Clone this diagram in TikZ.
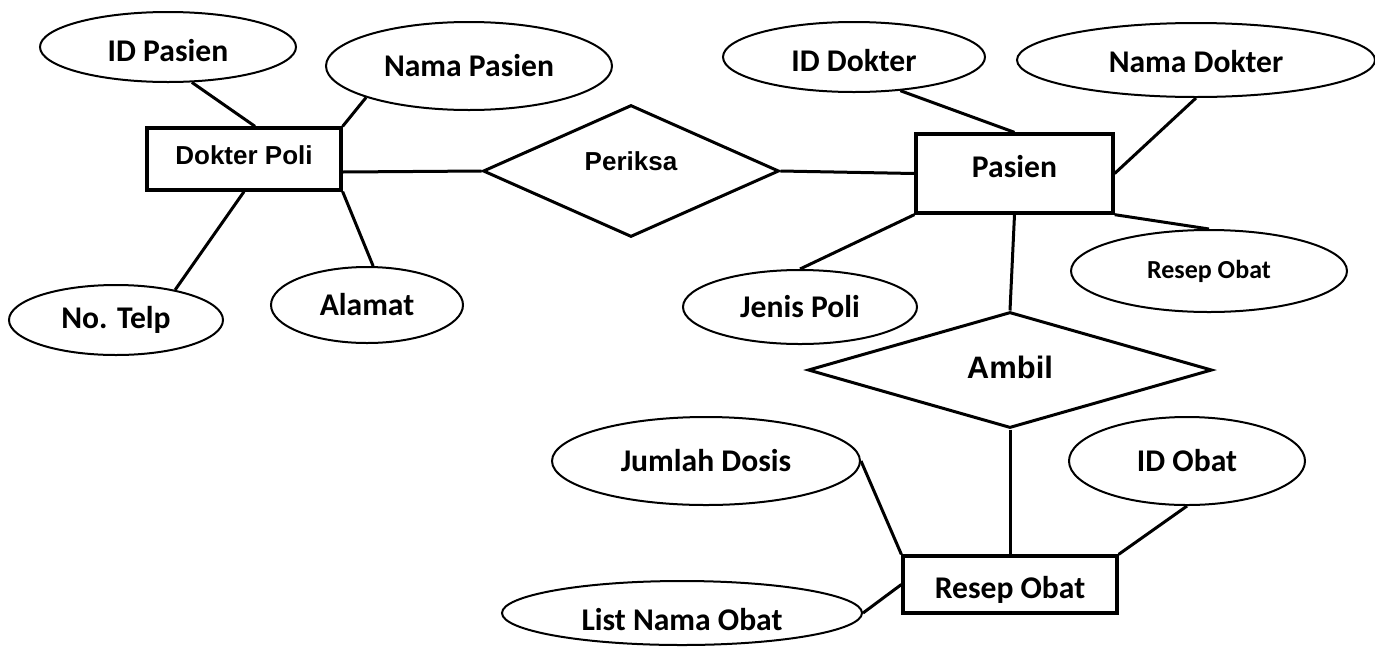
\documentclass[tikz,border=0pt]{standalone}
\usepackage{fontspec}
\setmainfont{Carlito}
\newfontfamily\arialfont{Liberation Sans}
\usetikzlibrary{shapes.geometric,calc}

\begin{document}
\begin{tikzpicture}[x=1pt,y=-1pt,
  attr/.style={ellipse, draw, line width=2pt, inner sep=0pt,
    font=\fontsize{31.6}{36}\selectfont\bfseries},
  entity/.style={rectangle, draw, line width=3.3pt, inner sep=0pt},
  cfont/.style={font=\fontsize{31.6}{36}\selectfont\bfseries},
  afont/.style={font=\arialfont\fontsize{#1}{#1}\selectfont\bfseries},
  rel/.style={diamond, draw, line width=3pt, inner sep=0pt},
  lower/.style={text height=#1, text depth=0pt},
  link/.style={line width=3pt}]

\useasboundingbox (0,0) rectangle (1375,646);

% entities
\node[entity, afont=26, minimum width=194pt, minimum height=62pt,
      text height=19pt, text depth=8.4pt] (dp) at (244,159) {Dokter Poli};
\node[entity, cfont, minimum width=197pt, minimum height=79pt,
      text height=20.5pt, text depth=13pt] (ps) at (1014.5,173.5) {Pasien};
\node[entity, cfont, minimum width=214pt, minimum height=57pt,
      lower=27pt] (rs) at (1010,584.5) {Resep Obat};

% relationships
\node[rel, afont=26, minimum width=296pt, minimum height=122pt,
      text height=19pt, text depth=20.4pt] (per) at (631,171) {Periksa};
\node[rel, afont=31, minimum width=404pt, minimum height=116pt,
      text height=22.6pt, text depth=6.4pt] (amb) at (1010,370) {Ambil};

% attributes
\node[attr, lower=29pt, minimum width=256pt, minimum height=70pt] (idp) at (168,47) {ID Pasien};
\node[attr, minimum width=286pt, minimum height=88pt] (nmp) at (469,66) {Nama Pasien};
\node[attr, minimum width=214pt, minimum height=70pt] (tel) at (116,320) {No. Telp};
\node[attr, minimum width=192pt, minimum height=76pt] (alm) at (367,305) {Alamat};
\node[attr, lower=29pt, minimum width=262pt, minimum height=70pt] (idd) at (854,57) {ID Dokter};
\node[attr, lower=24pt, minimum width=358pt, minimum height=74pt] (nmd) at (1196,60) {Nama Dokter};
\node[attr, minimum width=276pt, minimum height=82pt,
      font=\fontsize{26}{30}\selectfont\bfseries] (rsa) at (1209,271) {Resep Obat};
\node[attr, minimum width=234pt, minimum height=74pt] (jp) at (800,307) {Jenis Poli};
\node[attr, minimum width=308pt, minimum height=88pt] (jd) at (706,461) {Jumlah Dosis};
\node[attr, minimum width=236pt, minimum height=88pt] (ido) at (1187,461) {ID Obat};
\node[attr, lower=34pt, minimum width=360pt, minimum height=64pt] (lno) at (682,613) {List Nama Obat};

% connectors
\draw[link] (idp.-56) -- ([xshift=11pt]dp.north);
\draw[link] (nmp.197) -- (dp.north east);
\draw[link] ([yshift=-13pt]dp.east) -- (per.west);
\draw[link] (dp.south) -- (tel.27);
\draw[link] (dp.south east) -- (alm.81);
\draw[link] (per.east) -- (ps.west);
\draw[link] (idd.-36) -- (ps.north);
\draw[link] (nmd.south) -- (ps.east);
\draw[link] (ps.south east) -- (rsa.north);
\draw[link] (ps.south west) -- (jp.north);
\draw[link] (ps.south) -- (amb.north);
\draw[link] (amb.south) -- (rs.north);
\draw[link] (jd.east) -- (rs.north west);
\draw[link] (lno.east) -- (rs.west);
\draw[link] (ido.south) -- (rs.north east);
\end{tikzpicture}
\end{document}
